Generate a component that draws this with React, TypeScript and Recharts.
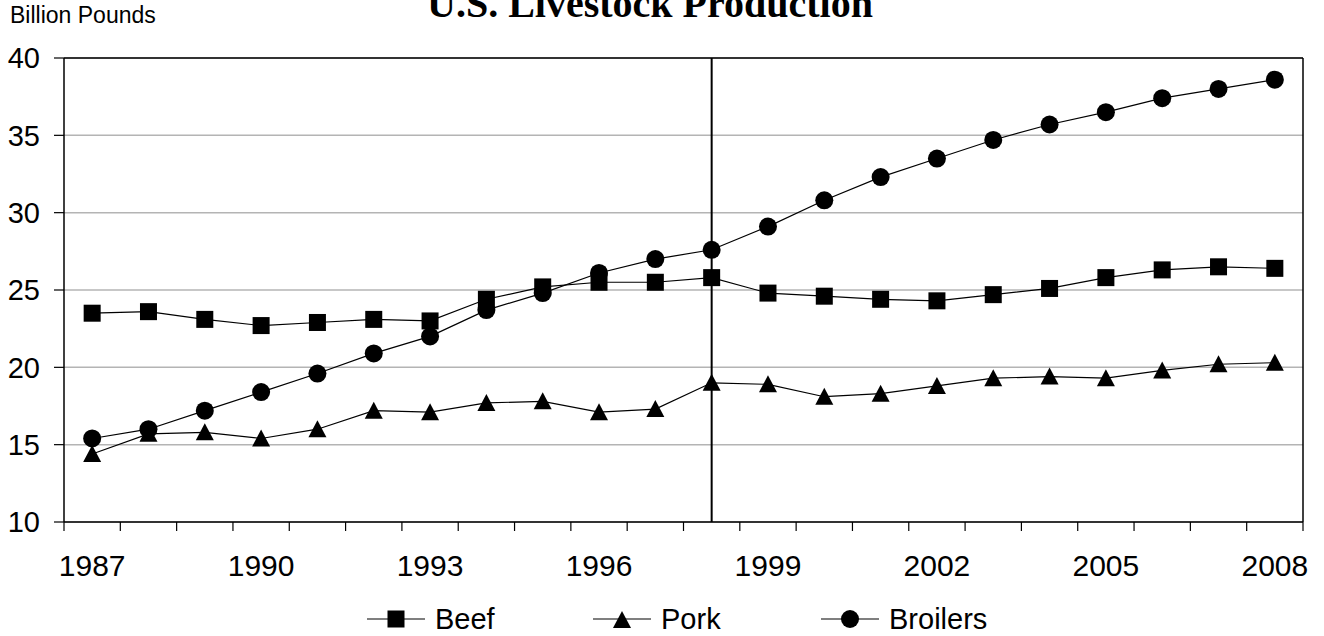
import {
  LineChart,
  Line,
  XAxis,
  YAxis,
  CartesianGrid,
  ReferenceLine,
  Legend,
} from "recharts";

// years on the category axis
const years = [
  1987, 1988, 1989, 1990, 1991, 1992, 1993, 1994, 1995, 1996, 1997,
  1998, 1999, 2000, 2001, 2002, 2003, 2004, 2005, 2006, 2007, 2008,
];

// billion pounds
const beef = [
  23.5, 23.6, 23.1, 22.7, 22.9, 23.1, 23.0, 24.4, 25.2, 25.5, 25.5,
  25.8, 24.8, 24.6, 24.4, 24.3, 24.7, 25.1, 25.8, 26.3, 26.5, 26.4,
];
const pork = [
  14.4, 15.7, 15.8, 15.4, 16.0, 17.2, 17.1, 17.7, 17.8, 17.1, 17.3,
  19.0, 18.9, 18.1, 18.3, 18.8, 19.3, 19.4, 19.3, 19.8, 20.2, 20.3,
];
const broilers = [
  15.4, 16.0, 17.2, 18.4, 19.6, 20.9, 22.0, 23.7, 24.8, 26.1, 27.0,
  27.6, 29.1, 30.8, 32.3, 33.5, 34.7, 35.7, 36.5, 37.4, 38.0, 38.6,
];

const yearLabels = [1987, 1990, 1993, 1996, 1999, 2002, 2005, 2008];
const yTicks = [10, 15, 20, 25, 30, 35, 40];

const data = years.map((year, i) => ({
  year,
  beef: beef[i],
  pork: pork[i],
  broilers: broilers[i],
}));

// tick marks sit between the years, like the original spreadsheet chart
const bandEdges = years.map((y) => y - 0.5).concat(years[years.length - 1] + 0.5);
const xDomain = [bandEdges[0], bandEdges[bandEdges.length - 1]];
const xTicks = [...bandEdges, ...yearLabels].sort((a, b) => a - b);

const SANS = "'Liberation Sans', Arial, sans-serif";
const SERIF = "'Liberation Serif', 'Times New Roman', serif";

const SquareDot = (props: any) => {
  const { cx, cy, index } = props;
  return <rect key={`s${index}`} x={cx - 8.5} y={cy - 8.5} width={17} height={17} fill="#000" />;
};

const TriangleDot = (props: any) => {
  const { cx, cy, index } = props;
  return (
    <polygon
      key={`t${index}`}
      points={`${cx},${cy - 9} ${cx + 9},${cy + 8} ${cx - 9},${cy + 8}`}
      fill="#000"
    />
  );
};

const CircleDot = (props: any) => {
  const { cx, cy, index } = props;
  return <circle key={`c${index}`} cx={cx} cy={cy} r={9} fill="#000" />;
};

// half-year ticks get a mark, whole years get a label
const YearTick = (props: any) => {
  const { x, y, payload } = props;
  const v = payload.value;
  if (Number.isInteger(v)) {
    return (
      <text x={x} y={y + 54} textAnchor="middle" fill="#000" fontSize={30} fontFamily={SANS}>
        {v}
      </text>
    );
  }
  return <line x1={x} y1={y} x2={x} y2={y + 9} stroke="#000" strokeWidth={1.2} />;
};

const legendItems = [
  { name: "Beef", left: 367, marker: "square" },
  { name: "Pork", left: 593, marker: "triangle" },
  { name: "Broilers", left: 821, marker: "circle" },
];

const LegendMarker = ({ kind }: { kind: string }) => (
  <svg width={58} height={20} style={{ display: "block" }}>
    <line x1={0} y1={10} x2={58} y2={10} stroke="#000" strokeWidth={1.2} />
    {kind === "square" && <rect x={20.5} y={1.5} width={17} height={17} fill="#000" />}
    {kind === "triangle" && <polygon points="29,2 38,19 20,19" fill="#000" />}
    {kind === "circle" && <circle cx={29} cy={10} r={9} fill="#000" />}
  </svg>
);

const renderLegend = () => (
  <div style={{ position: "relative", width: 1324, height: 36 }}>
    {legendItems.map((item) => (
      <div
        key={item.name}
        style={{
          position: "absolute",
          left: item.left,
          top: 0,
          display: "flex",
          alignItems: "center",
          height: 36,
          fontFamily: SANS,
          fontSize: 29,
          lineHeight: 1,
          color: "#000",
        }}
      >
        <LegendMarker kind={item.marker} />
        <span style={{ marginLeft: 10 }}>{item.name}</span>
      </div>
    ))}
  </div>
);

export default function App() {
  return (
    <div style={{ position: "absolute", left: 0, top: 0, width: 1324, height: 636, background: "#fff" }}>
      <div
        style={{
          position: "absolute",
          left: 427,
          top: -16,
          fontFamily: SERIF,
          fontWeight: "bold",
          fontSize: 40,
          lineHeight: "40px",
          whiteSpace: "nowrap",
          color: "#000",
        }}
      >
        U.S. Livestock Production
      </div>
      <div
        style={{
          position: "absolute",
          left: 10,
          top: 4,
          fontFamily: SANS,
          fontSize: 23,
          lineHeight: "23px",
          whiteSpace: "nowrap",
          color: "#000",
        }}
      >
        Billion Pounds
      </div>

      <LineChart
        width={1324}
        height={636}
        data={data}
        margin={{ top: 58, right: 21, bottom: 0, left: 0 }}
        style={{ position: "absolute", left: 0, top: 0 }}
      >
        <CartesianGrid vertical={false} stroke="#b4b4b4" strokeWidth={1.5} />

        <XAxis
          dataKey="year"
          type="number"
          domain={xDomain}
          ticks={xTicks}
          interval={0}
          tickLine={false}
          tickSize={0}
          tickMargin={0}
          axisLine={{ stroke: "#000", strokeWidth: 1.5 }}
          tick={YearTick}
          height={114}
        />
        <YAxis
          domain={[10, 40]}
          ticks={yTicks}
          interval={0}
          width={64}
          tickSize={10}
          tickMargin={14}
          axisLine={{ stroke: "#000", strokeWidth: 1.5 }}
          tickLine={{ stroke: "#000", strokeWidth: 1.2 }}
          tick={{ fill: "#000", fontSize: 29, fontFamily: SANS }}
        />

        <ReferenceLine y={40} stroke="#000" strokeWidth={1.5} />
        <ReferenceLine x={xDomain[1]} stroke="#000" strokeWidth={1.5} />
        <ReferenceLine x={1998} stroke="#000" strokeWidth={2} />

        <Legend
          verticalAlign="middle"
          align="center"
          layout="horizontal"
          content={renderLegend}
          wrapperStyle={{ top: 601, left: 0, width: 1324 }}
        />

        <Line
          dataKey="beef"
          name="Beef"
          stroke="#000"
          strokeWidth={1.2}
          dot={SquareDot}
          isAnimationActive={false}
        />
        <Line
          dataKey="pork"
          name="Pork"
          stroke="#000"
          strokeWidth={1.2}
          dot={TriangleDot}
          isAnimationActive={false}
        />
        <Line
          dataKey="broilers"
          name="Broilers"
          stroke="#000"
          strokeWidth={1.2}
          dot={CircleDot}
          isAnimationActive={false}
        />
      </LineChart>
    </div>
  );
}
